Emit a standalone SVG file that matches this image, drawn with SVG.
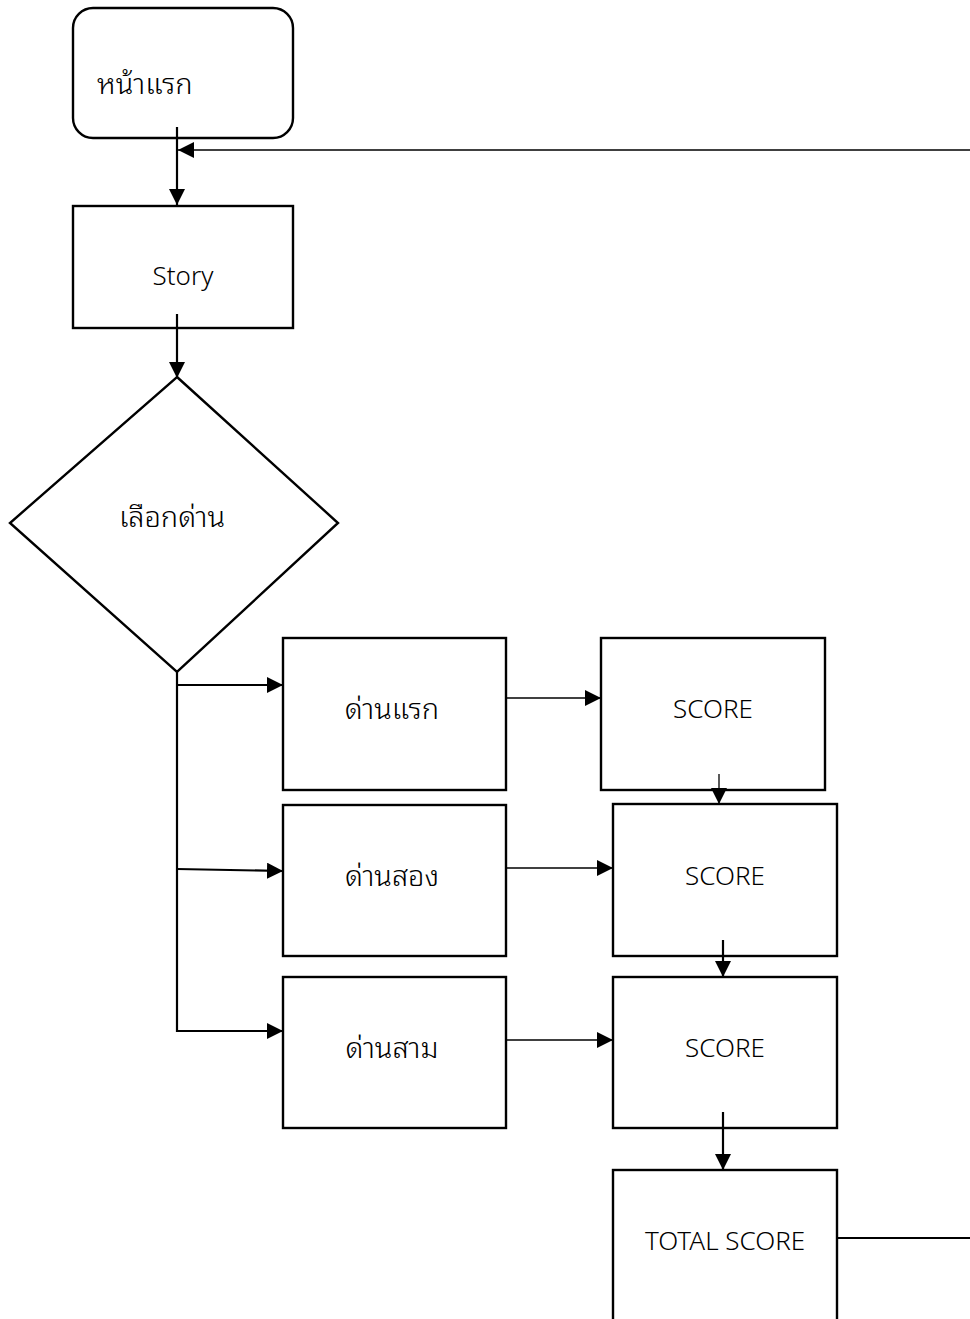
<svg xmlns="http://www.w3.org/2000/svg" width="970" height="1319" viewBox="0 0 970 1319">
  <style>
    .box { fill: #fff; stroke: #000; stroke-width: 2.4; }
    .lbl { font-family: "Noto Sans", "DejaVu Sans", sans-serif; font-size: 26px; fill: #000; font-weight: 300; }
    .th { font-family: "Noto Sans Thai Looped", "Noto Sans Thai", "Noto Sans", "DejaVu Sans", sans-serif; font-size: 29px; fill: #000; font-weight: 300; }
    .c { text-anchor: middle; }
    .line { fill: none; stroke: #000; stroke-width: 2.2; }
    .thin { fill: none; stroke: #000; stroke-width: 1.3; }
  </style>
  <defs>
    <marker id="ah" viewBox="0 0 10 10" refX="10" refY="5" markerWidth="16" markerHeight="16" markerUnits="userSpaceOnUse" orient="auto">
      <path d="M0,0 L10,5 L0,10 Z" fill="#000"/>
    </marker>
  </defs>
  <rect width="970" height="1319" fill="#fff"/>

  <g id="home">
    <rect class="box" x="73" y="8" width="220" height="130" rx="20" ry="20"/>
    <text class="th" x="97" y="94">หน้าแรก</text>
  </g>
  <g id="story">
    <rect class="box" x="73" y="206" width="220" height="122"/>
    <text class="lbl c" x="183" y="285">Story</text>
  </g>
  <g id="choose">
    <polygon class="box" points="177,377 338,523 177,672 10,523"/>
    <text class="th c" x="172" y="527">เลือกด่าน</text>
  </g>
  <g id="level1">
    <rect class="box" x="283" y="638" width="223" height="152"/>
    <text class="th c" x="392" y="719">ด่านแรก</text>
  </g>
  <g id="level2">
    <rect class="box" x="283" y="805" width="223" height="151"/>
    <text class="th c" x="392" y="886">ด่านสอง</text>
  </g>
  <g id="level3">
    <rect class="box" x="283" y="977" width="223" height="151"/>
    <text class="th c" x="392" y="1058">ด่านสาม</text>
  </g>
  <g id="score1">
    <rect class="box" x="601" y="638" width="224" height="152"/>
    <text class="lbl c" x="713" y="718">SCORE</text>
  </g>
  <g id="score2">
    <rect class="box" x="613" y="804" width="224" height="152"/>
    <text class="lbl c" x="725" y="885">SCORE</text>
  </g>
  <g id="score3">
    <rect class="box" x="613" y="977" width="224" height="151"/>
    <text class="lbl c" x="725" y="1057">SCORE</text>
  </g>
  <g id="total">
    <rect class="box" x="613" y="1170" width="224" height="160"/>
    <text class="lbl c" x="725" y="1250">TOTAL SCORE</text>
  </g>

  <g id="connectors">
    <line class="line" x1="177" y1="127" x2="177" y2="205" marker-end="url(#ah)"/>
    <line class="thin" x1="970" y1="150" x2="178" y2="150" marker-end="url(#ah)"/>
    <line class="line" x1="177" y1="314" x2="177" y2="378" marker-end="url(#ah)"/>
    <polyline class="line" points="177,672 177,1031 283,1031" marker-end="url(#ah)"/>
    <line class="line" x1="177" y1="685" x2="283" y2="685" marker-end="url(#ah)"/>
    <line class="line" x1="177" y1="869" x2="283" y2="871" marker-end="url(#ah)"/>
    <line class="thin" x1="506" y1="698" x2="601" y2="698" marker-end="url(#ah)"/>
    <line class="thin" x1="506" y1="868" x2="613" y2="868" marker-end="url(#ah)"/>
    <line class="thin" x1="506" y1="1040" x2="613" y2="1040" marker-end="url(#ah)"/>
    <line class="thin" x1="719" y1="774" x2="719" y2="804" marker-end="url(#ah)"/>
    <line class="line" x1="723" y1="940" x2="723" y2="977" marker-end="url(#ah)"/>
    <line class="line" x1="723" y1="1112" x2="723" y2="1170" marker-end="url(#ah)"/>
    <line class="line" x1="837" y1="1238" x2="970" y2="1238"/>
  </g>
</svg>
